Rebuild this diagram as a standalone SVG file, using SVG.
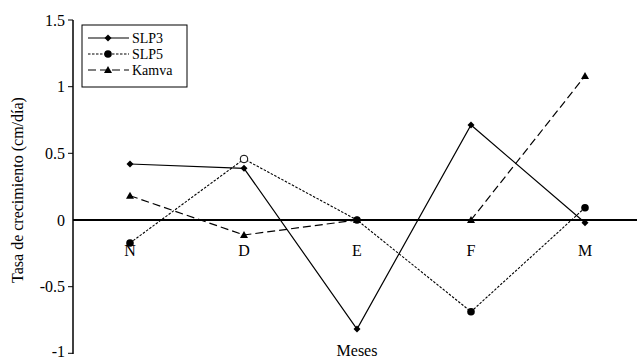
<svg xmlns="http://www.w3.org/2000/svg" width="637" height="360" viewBox="0 0 637 360" font-family="'Liberation Serif', 'DejaVu Serif', serif">
<style>
text{font-family:"Liberation Serif","DejaVu Serif",serif;font-size:16px;fill:#000}
.yt{text-anchor:end}
.xt{text-anchor:middle}
.lg{font-size:14px}
.s3{fill:none;stroke:#000;stroke-width:1.2}
.s5{fill:none;stroke:#000;stroke-width:1.1;stroke-dasharray:2.5 1.5}
.kv{fill:none;stroke:#000;stroke-width:1.2;stroke-dasharray:8 4}
</style>
<defs>
<path id="dia" d="M0,-3.5 L3.5,0 L0,3.5 L-3.5,0Z" fill="#000"/>
<circle id="cir" r="3.8" fill="#000"/>
<path id="tri" d="M0,-4 L4,3 L-4,3Z" fill="#000"/>
</defs>
<rect width="637" height="360" fill="#fff"/>
<g id="axes">
<line x1="73" y1="20" x2="73" y2="354" stroke="#000" stroke-width="1.5"/>
<line x1="73" y1="220" x2="637" y2="220" stroke="#000" stroke-width="2"/>
<g stroke="#000" stroke-width="1">
<line x1="68" y1="20" x2="73" y2="20"/>
<line x1="68" y1="86.7" x2="73" y2="86.7"/>
<line x1="68" y1="153.3" x2="73" y2="153.3"/>
<line x1="68" y1="286.7" x2="73" y2="286.7"/>
<line x1="68" y1="353.3" x2="73" y2="353.3"/>
</g>
<text class="yt" x="65" y="26">1.5</text>
<text class="yt" x="65" y="92">1</text>
<text class="yt" x="65" y="159">0.5</text>
<text class="yt" x="65" y="226">0</text>
<text class="yt" x="65" y="292">-0.5</text>
<text class="yt" x="65" y="357">-1</text>
<text class="xt" x="130" y="256">N</text>
<text class="xt" x="244" y="256">D</text>
<text class="xt" x="357" y="256">E</text>
<text class="xt" x="471" y="256">F</text>
<text class="xt" x="585" y="256">M</text>
<text class="xt" x="357" y="356">Meses</text>
<text class="xt" transform="translate(23,190) rotate(-90)">Tasa de crecimiento (cm/día)</text>
</g>
<g id="connectors">
<polyline class="s3" points="130,164 244,168.3 357,329 471,125 585,222.7"/>
<polyline class="s5" points="130,243 244,159 357,220 471,311.7 585,207.7"/>
<polyline class="kv" points="130,195.7 244,235 357,220 471,220 585,76"/>
</g>
<g id="SLP3">
<use href="#dia" x="130" y="164"/><use href="#dia" x="244" y="168.3"/><use href="#dia" x="357" y="329"/><use href="#dia" x="471" y="125"/><use href="#dia" x="585" y="222.7"/>
</g>
<g id="SLP5">
<use href="#cir" x="130" y="243"/><circle cx="244" cy="159" r="3.8" fill="#fff" stroke="#000" stroke-width="1"/><use href="#cir" x="357" y="220"/><use href="#cir" x="471" y="311.7"/><use href="#cir" x="585" y="207.7"/>
</g>
<g id="Kamva">
<use href="#tri" x="130" y="195.7"/><use href="#tri" x="244" y="235"/><use href="#tri" x="357" y="220"/><use href="#tri" x="471" y="220"/><use href="#tri" x="585" y="76"/>
</g>
<g id="legend">
<rect x="82" y="25" width="105" height="62" fill="#fff" stroke="#000" stroke-width="1"/>
<line class="s3" x1="88" y1="38" x2="129" y2="38"/><use href="#dia" x="108" y="38"/>
<line class="s5" x1="88" y1="54" x2="129" y2="54"/><use href="#cir" x="108" y="54"/>
<line class="kv" x1="88" y1="70" x2="129" y2="70"/><use href="#tri" x="108" y="70"/>
<text class="lg" x="132" y="43">SLP3</text>
<text class="lg" x="132" y="59">SLP5</text>
<text class="lg" x="132" y="75">Kamva</text>
</g>
</svg>
